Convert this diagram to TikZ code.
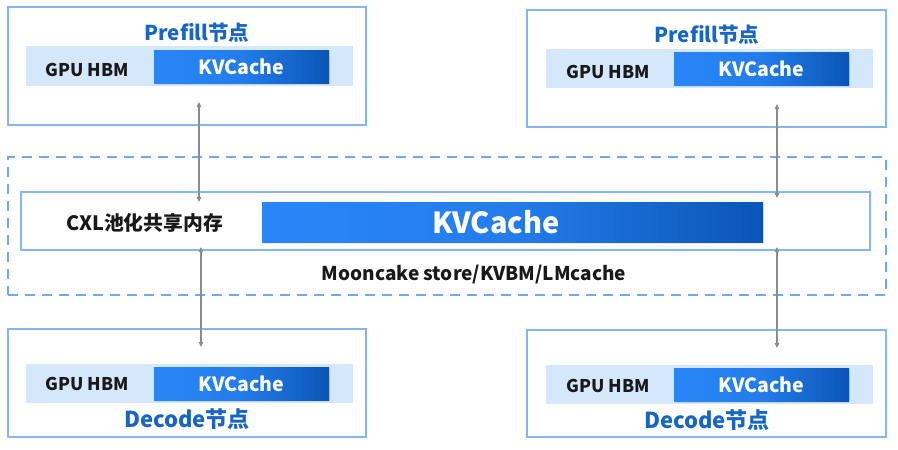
\documentclass[tikz,border=0pt]{standalone}
\usepackage{fontspec}
\setmainfont{Noto Sans CJK SC}
\usetikzlibrary{arrows.meta,shadows}
\definecolor{boxline}{HTML}{86B6F2}
\definecolor{bandfill}{HTML}{D5E7FB}
\definecolor{kvleft}{HTML}{2A86F7}
\definecolor{kvright}{HTML}{0A55B6}
\definecolor{titleblue}{HTML}{1566C6}
\definecolor{dashblue}{HTML}{6FA9F4}
\definecolor{conn}{HTML}{8C8C8C}
\tikzset{
  base/.style={inner sep=0pt, outer sep=0pt, anchor=north west},
  nodebox/.style={base, draw=boxline, line width=1.2pt, fill=white},
  band/.style={base, fill=bandfill},
  kvbox/.style={base, left color=kvleft, right color=kvright, middle color=kvleft!80!kvright, text=white, font=\bfseries\fontsize{19.5}{22}\selectfont, drop shadow={opacity=0.15, shadow xshift=1pt, shadow yshift=-1.5pt}},
  title/.style={text=titleblue, font=\bfseries\fontsize{20.5}{23}\selectfont},
  label/.style={text=black!90, font=\bfseries\fontsize{17.5}{20}\selectfont},
  conn/.style={draw=conn, line width=1.1pt, {Triangle[length=5pt,width=4.5pt]}-{Triangle[length=5pt,width=4.5pt]}},
}
\begin{document}
\begin{tikzpicture}[x=1pt,y=-1pt]
\useasboundingbox (0,0) rectangle (898,450);
% dashed storage box
\node[base, draw=dashblue, line width=2pt, dash pattern=on 10pt off 7pt, minimum width=878pt, minimum height=138pt] (store) at (8,157) {};
% Prefill left
\node[nodebox, minimum width=358pt, minimum height=118pt] (p1) at (8,7) {};
\node[title] (p1t) at (197,33) {Prefill节点};
\node[band, minimum width=327pt, minimum height=40pt] (p1b) at (26,46) {};
\node[kvbox, minimum width=175pt, minimum height=33pt] (p1k) at (154,50) {KVCache};
\node[label] (p1g) at (87,70) {GPU HBM};
% Prefill right
\node[nodebox, minimum width=359pt, minimum height=117pt] (p2) at (527,10) {};
\node[title] (p2t) at (707,35) {Prefill节点};
\node[band, minimum width=327pt, minimum height=39pt] (p2b) at (546,49) {};
\node[kvbox, minimum width=175pt, minimum height=33pt] (p2k) at (674,52) {KVCache};
\node[label] (p2g) at (608,72) {GPU HBM};
% middle
\node[nodebox, minimum width=849pt, minimum height=58pt] (cxl) at (21,192) {};
\node[kvbox, minimum width=501pt, minimum height=40pt] (bigkv) at (262,202) {};
\node[text=white, font=\bfseries\fontsize{29}{31}\selectfont, inner sep=0pt] (bigkvt) at (496,222) {KVCache};
\node[label, font=\bfseries\fontsize{19.8}{22}\selectfont] (cxlt) at (144.5,223) {CXL池化共享内存};
\node[label, font=\bfseries\fontsize{19}{22}\selectfont] (moon) at (474,275) {Mooncake store/KVBM/LMcache};
% Decode left
\node[nodebox, minimum width=358pt, minimum height=108pt] (d1) at (8,329) {};
\node[band, minimum width=327pt, minimum height=39pt] (d1b) at (26,364) {};
\node[kvbox, minimum width=175pt, minimum height=33pt] (d1k) at (154,367) {KVCache};
\node[label] (d1g) at (87,384) {GPU HBM};
\node[title, font=\bfseries\fontsize{22}{24}\selectfont] (d1t) at (187,419) {Decode节点};
% Decode right
\node[nodebox, minimum width=359pt, minimum height=107pt] (d2) at (527,330) {};
\node[band, minimum width=327pt, minimum height=39pt] (d2b) at (546,365) {};
\node[kvbox, minimum width=175pt, minimum height=33pt] (d2k) at (674,368) {KVCache};
\node[label] (d2g) at (608,386) {GPU HBM};
\node[title, font=\bfseries\fontsize{22}{24}\selectfont] (d2t) at (707,420) {Decode节点};
% connectors
\coordinate (a1s) at (199,102);
\coordinate (a1e) at (199,202);
\coordinate (a2s) at (201,247);
\coordinate (a2e) at (201,347);
\coordinate (a3s) at (777,104);
\coordinate (a3e) at (777,198);
\coordinate (a4s) at (777,247);
\coordinate (a4e) at (777,348);
\draw[conn] (a1s) -- (a1e);
\draw[conn] (a2s) -- (a2e);
\draw[conn] (a3s) -- (a3e);
\draw[conn] (a4s) -- (a4e);
\end{tikzpicture}
\end{document}
